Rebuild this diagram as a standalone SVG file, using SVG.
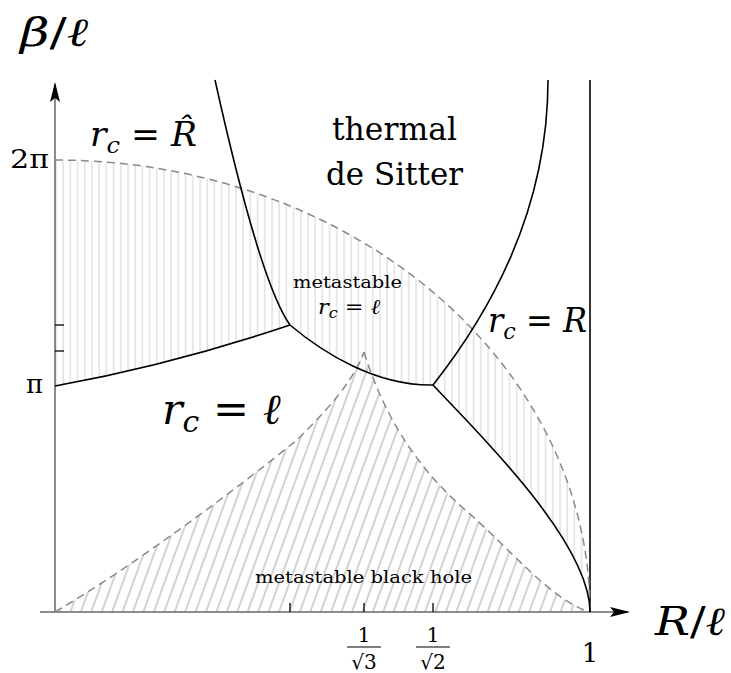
<svg xmlns="http://www.w3.org/2000/svg" width="731" height="673" viewBox="0 0 731 673">
<style>
text{font-family:"DejaVu Serif",serif;fill:#000}
.math{font-style:italic}
.rm{font-style:normal}
.curve{fill:none;stroke:#000;stroke-width:1.6}
.dash{fill:none;stroke:#8a8a8a;stroke-width:1.5;stroke-dasharray:8 5}
.axis{fill:none;stroke:#666;stroke-width:1.5}
.tick{stroke:#000;stroke-width:1.3}
</style>
<defs>
<pattern id="vh" patternUnits="userSpaceOnUse" x="55" y="0" width="7.2" height="10">
<line x1="1" y1="0" x2="1" y2="10" stroke="#d2d2d2" stroke-width="1"/>
</pattern>
<pattern id="dh" patternUnits="userSpaceOnUse" x="0" y="0" width="9.8" height="10" patternTransform="rotate(20)">
<line x1="1" y1="0" x2="1" y2="10" stroke="#9a9a9a" stroke-width="0.9"/>
</pattern>
<marker id="arr" viewBox="0 0 20 10" refX="18" refY="5" markerWidth="20" markerHeight="10" markerUnits="userSpaceOnUse" orient="auto">
<path d="M0,0 L20,5 L0,10 L4,5 Z" fill="#000"/>
</marker>
</defs>

<g id="hatching">
<path id="stable-region-hatch" fill="url(#vh)" d="M55,160 A535,452 0 0 1 590,612 C590,540 470,425 433,385 C375,386 322,352 290,325 Q171,365 55,386 Z"/>
<path id="blackhole-hatch" fill="url(#dh)" d="M55,612 C136,564 230,494 297,440 C320,417 352,385 364,352 C385,420 420,470 463,508 C510,548 550,600 590,612 Z"/>
</g>

<g id="axes">
<line class="axis" x1="55" y1="612" x2="55" y2="84" marker-end="url(#arr)"/>
<line class="axis" x1="40" y1="612" x2="628" y2="612" marker-end="url(#arr)"/>
<line x1="590" y1="80" x2="590" y2="612" stroke="#000" stroke-width="1.6"/>
<line class="tick" x1="55" y1="325" x2="64" y2="325"/>
<line class="tick" x1="55" y1="351" x2="64" y2="351"/>
<line class="tick" x1="290" y1="603" x2="290" y2="612"/>
<line class="tick" x1="364" y1="603" x2="364" y2="612"/>
<line class="tick" x1="433" y1="603" x2="433" y2="612"/>
</g>

<g id="connectors">
<path class="dash" d="M55,160 A535,452 0 0 1 590,612"/>
<path class="dash" d="M55,612 C136,564 230,494 297,440 C320,417 352,385 364,352"/>
<path class="dash" d="M364,352 C385,420 420,470 463,508 C510,548 550,600 590,612"/>
<path class="curve" d="M215,80 C235,170 265,290 290,325"/>
<path class="curve" d="M548,80 C548,200 500,300 433,385"/>
<path class="curve" d="M55,386 Q171,365 290,325"/>
<path class="curve" d="M290,325 C322,352 375,386 433,385"/>
<path class="curve" d="M433,385 C470,425 590,540 590,612"/>
</g>

<g id="labels">
<text id="ylabel" x="20" y="46" font-size="40" textLength="68" lengthAdjust="spacingAndGlyphs"><tspan class="math">β</tspan><tspan class="rm">/</tspan><tspan class="math">ℓ</tspan></text>
<text id="xlabel" x="655" y="635" font-size="40" textLength="70" lengthAdjust="spacingAndGlyphs"><tspan class="math">R</tspan><tspan class="rm">/</tspan><tspan class="math">ℓ</tspan></text>
<text class="rm" x="10" y="168" font-size="26" textLength="39" lengthAdjust="spacingAndGlyphs">2π</text>
<text class="rm" x="26" y="393" font-size="26" textLength="17" lengthAdjust="spacingAndGlyphs">π</text>
<text class="rm" x="590" y="662" font-size="26" text-anchor="middle">1</text>
<g id="frac3">
<text class="rm" x="364" y="642" font-size="20" text-anchor="middle">1</text>
<line x1="347" y1="647" x2="381" y2="647" stroke="#000" stroke-width="1.2"/>
<text class="rm" x="364" y="669" font-size="20" text-anchor="middle">√3</text>
</g>
<g id="frac2">
<text class="rm" x="433" y="642" font-size="20" text-anchor="middle">1</text>
<line x1="416" y1="647" x2="450" y2="647" stroke="#000" stroke-width="1.2"/>
<text class="rm" x="433" y="669" font-size="20" text-anchor="middle">√2</text>
</g>
</g>

<g id="region-rc-Rhat">
<text x="90" y="146" font-size="33" textLength="107" lengthAdjust="spacingAndGlyphs"><tspan class="math">r</tspan><tspan class="math" font-size="23" dy="7">c</tspan><tspan class="rm" dy="-7"> = </tspan><tspan class="math">R̂</tspan></text>
</g>
<g id="region-thermal-dS">
<text class="rm" x="332" y="140" font-size="31" textLength="125" lengthAdjust="spacingAndGlyphs">thermal</text>
<text class="rm" x="326" y="185" font-size="31" textLength="137" lengthAdjust="spacingAndGlyphs">de Sitter</text>
</g>
<g id="region-metastable-rc-l">
<text class="rm" x="293" y="288" font-size="17" textLength="109" lengthAdjust="spacingAndGlyphs">metastable</text>
<text x="318" y="314" font-size="21" textLength="62" lengthAdjust="spacingAndGlyphs"><tspan class="math">r</tspan><tspan class="math" font-size="15" dy="4">c</tspan><tspan class="rm" dy="-4"> = </tspan><tspan class="math">ℓ</tspan></text>
</g>
<g id="region-rc-R">
<text x="488" y="332" font-size="33" textLength="99" lengthAdjust="spacingAndGlyphs"><tspan class="math">r</tspan><tspan class="math" font-size="23" dy="7">c</tspan><tspan class="rm" dy="-7"> = </tspan><tspan class="math">R</tspan></text>
</g>
<g id="region-rc-l">
<text x="162" y="424" font-size="43"><tspan class="math">r</tspan><tspan class="math" font-size="30" dy="8">c</tspan><tspan class="rm" dy="-8"> = </tspan><tspan class="math">ℓ</tspan></text>
</g>
<g id="region-metastable-bh">
<text class="rm" x="255" y="583" font-size="17" textLength="217" lengthAdjust="spacingAndGlyphs">metastable black hole</text>
</g>
</svg>
